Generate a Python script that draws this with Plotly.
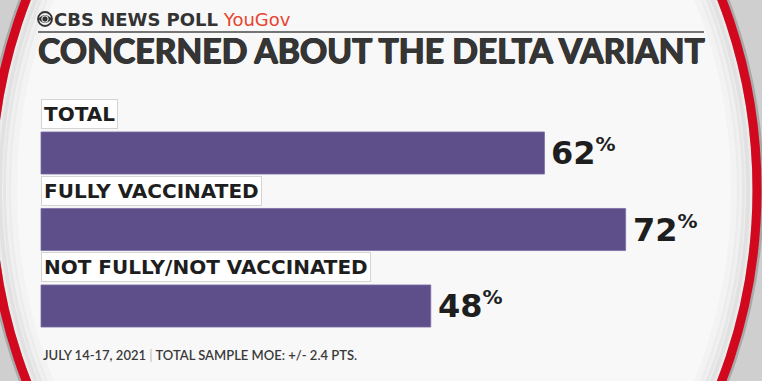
import plotly.graph_objects as go

categories = ["TOTAL", "FULLY VACCINATED", "NOT FULLY/NOT VACCINATED"]
values = [62, 72, 48]
title = "CONCERNED ABOUT THE DELTA VARIANT"
brand = "CBS NEWS POLL"
partner = "YouGov"
footer_date = "JULY 14-17, 2021"
footer_moe = "TOTAL SAMPLE MOE: +/- 2.4 PTS."

W, H = 762, 381
BAR = "#5e4f8a"
WIDE = "DejaVu Sans"

fig = go.Figure()
fig.add_trace(go.Bar(
    x=values, y=categories, orientation="h",
    marker=dict(color=BAR, line=dict(color="#7a6ca8", width=0.8)),
    width=0.55, hoverinfo="skip", showlegend=False,
))

# invisible pixel-space axes for decoration
fig.add_trace(go.Scatter(x=[0], y=[0], xaxis="x2", yaxis="y2", mode="markers",
                         marker=dict(opacity=0), hoverinfo="skip", showlegend=False))

shapes = []
# background ring (ellipse) with soft inner shading
shapes.append(dict(type="circle", xref="x2", yref="y2", x0=-9, x1=757, y0=-265, y1=645,
                   fillcolor="#f8f8f8", line=dict(color="#bdbdbd", width=9), layer="below"))
for k, a in [(22, 0.02), (16, 0.03), (11, 0.04), (7, 0.05)]:
    shapes.append(dict(type="circle", xref="x2", yref="y2", x0=-9 + k, x1=757 - k,
                       y0=-265 + k, y1=645 - k, fillcolor="rgba(0,0,0,0)",
                       line=dict(color=f"rgba(0,0,0,{a})", width=8), layer="below"))
shapes.append(dict(type="circle", xref="x2", yref="y2", x0=-13, x1=761, y0=-269, y1=649,
                   fillcolor="rgba(0,0,0,0)", line=dict(color="rgba(0,0,0,0.18)", width=6),
                   layer="below"))
shapes.append(dict(type="circle", xref="x2", yref="y2", x0=-9, x1=757, y0=-265, y1=645,
                   fillcolor="rgba(0,0,0,0)", line=dict(color="#d2091e", width=9), layer="below"))
# header rule
shapes.append(dict(type="line", xref="x2", yref="y2", x0=38, x1=704, y0=32, y1=32,
                   line=dict(color="#4a4a4a", width=1.5), layer="above"))
# CBS eye logo
shapes.append(dict(type="circle", xref="x2", yref="y2", x0=38, x1=52, y0=12, y1=26,
                   line=dict(color="#333", width=1.8), fillcolor="rgba(0,0,0,0)"))
shapes.append(dict(type="path", xref="x2", yref="y2",
                   path="M 38.5 19 Q 45 11.5 51.5 19 Q 45 26.5 38.5 19 Z",
                   line=dict(color="#333", width=0.5), fillcolor="#333"))
shapes.append(dict(type="circle", xref="x2", yref="y2", x0=41.8, x1=48.2, y0=15.8, y1=22.2,
                   line=dict(color="#f8f8f8", width=1.0), fillcolor="#333"))

annotations = []
annotations.append(dict(xref="x2", yref="y2", x=52, y=19, xanchor="left", yanchor="middle",
                        text=f"<b>{brand}</b> <span style='color:#e8432e'>{partner}</span>",
                        showarrow=False, font=dict(family=WIDE, size=18, color="#333")))
annotations.append(dict(xref="x2", yref="y2", x=36, y=50, xanchor="left", yanchor="middle",
                        text=title, showarrow=False,
                        font=dict(family="Lato", size=33.7, color="#353535", weight=700,
                                  shadow="0.8px 0 0 #353535, -0.6px 0 0 #353535, 0 0.6px 0 #353535")))

for c, v in zip(categories, values):
    annotations.append(dict(x=0, y=c, xref="x", yref="y", xanchor="left", yanchor="bottom",
                            yshift=24, text=f"<b>{c}</b>", showarrow=False,
                            font=dict(family=WIDE, size=20, color="#1e1e1e"),
                            bgcolor="#ffffff", bordercolor="#d4d4d4", borderwidth=1, borderpad=2))
    annotations.append(dict(x=v, y=c, xref="x", yref="y", xanchor="left", yanchor="middle",
                            xshift=5, yshift=1,
                            text=f"<b>{v}</b><sup><b><span style='font-size:20px'>%</span></b></sup>",
                            showarrow=False,
                            font=dict(family=WIDE, size=32, color="#1e1e1e")))

annotations.append(dict(xref="x2", yref="y2", x=41, y=355, xanchor="left", yanchor="middle",
                        text=f"{footer_date} <span style='color:#c4c4c4'>|</span> {footer_moe}",
                        showarrow=False, font=dict(family="Lato", size=13, color="#3a3a3a", weight=600)))

fig.update_layout(
    width=W, height=H, margin=dict(l=0, r=0, t=0, b=0),
    paper_bgcolor="#cfcfcf", plot_bgcolor="rgba(0,0,0,0)",
    xaxis=dict(range=[-41 / 8.12, (W - 41) / 8.12], domain=[0, 1], visible=False, fixedrange=True),
    yaxis=dict(range=[(H - 153) / 76.5, -153 / 76.5], domain=[0, 1], visible=False,
               type="category", categoryorder="array", categoryarray=categories, fixedrange=True),
    xaxis2=dict(range=[0, W], domain=[0, 1], visible=False, overlaying="x", fixedrange=True),
    yaxis2=dict(range=[H, 0], domain=[0, 1], visible=False, overlaying="y", fixedrange=True),
    shapes=shapes, annotations=annotations, bargap=0.45,
)
fig.write_html("out.html", config={"displayModeBar": False},
               post_script="document.body.style.margin='0';document.body.style.overflow='hidden';")
